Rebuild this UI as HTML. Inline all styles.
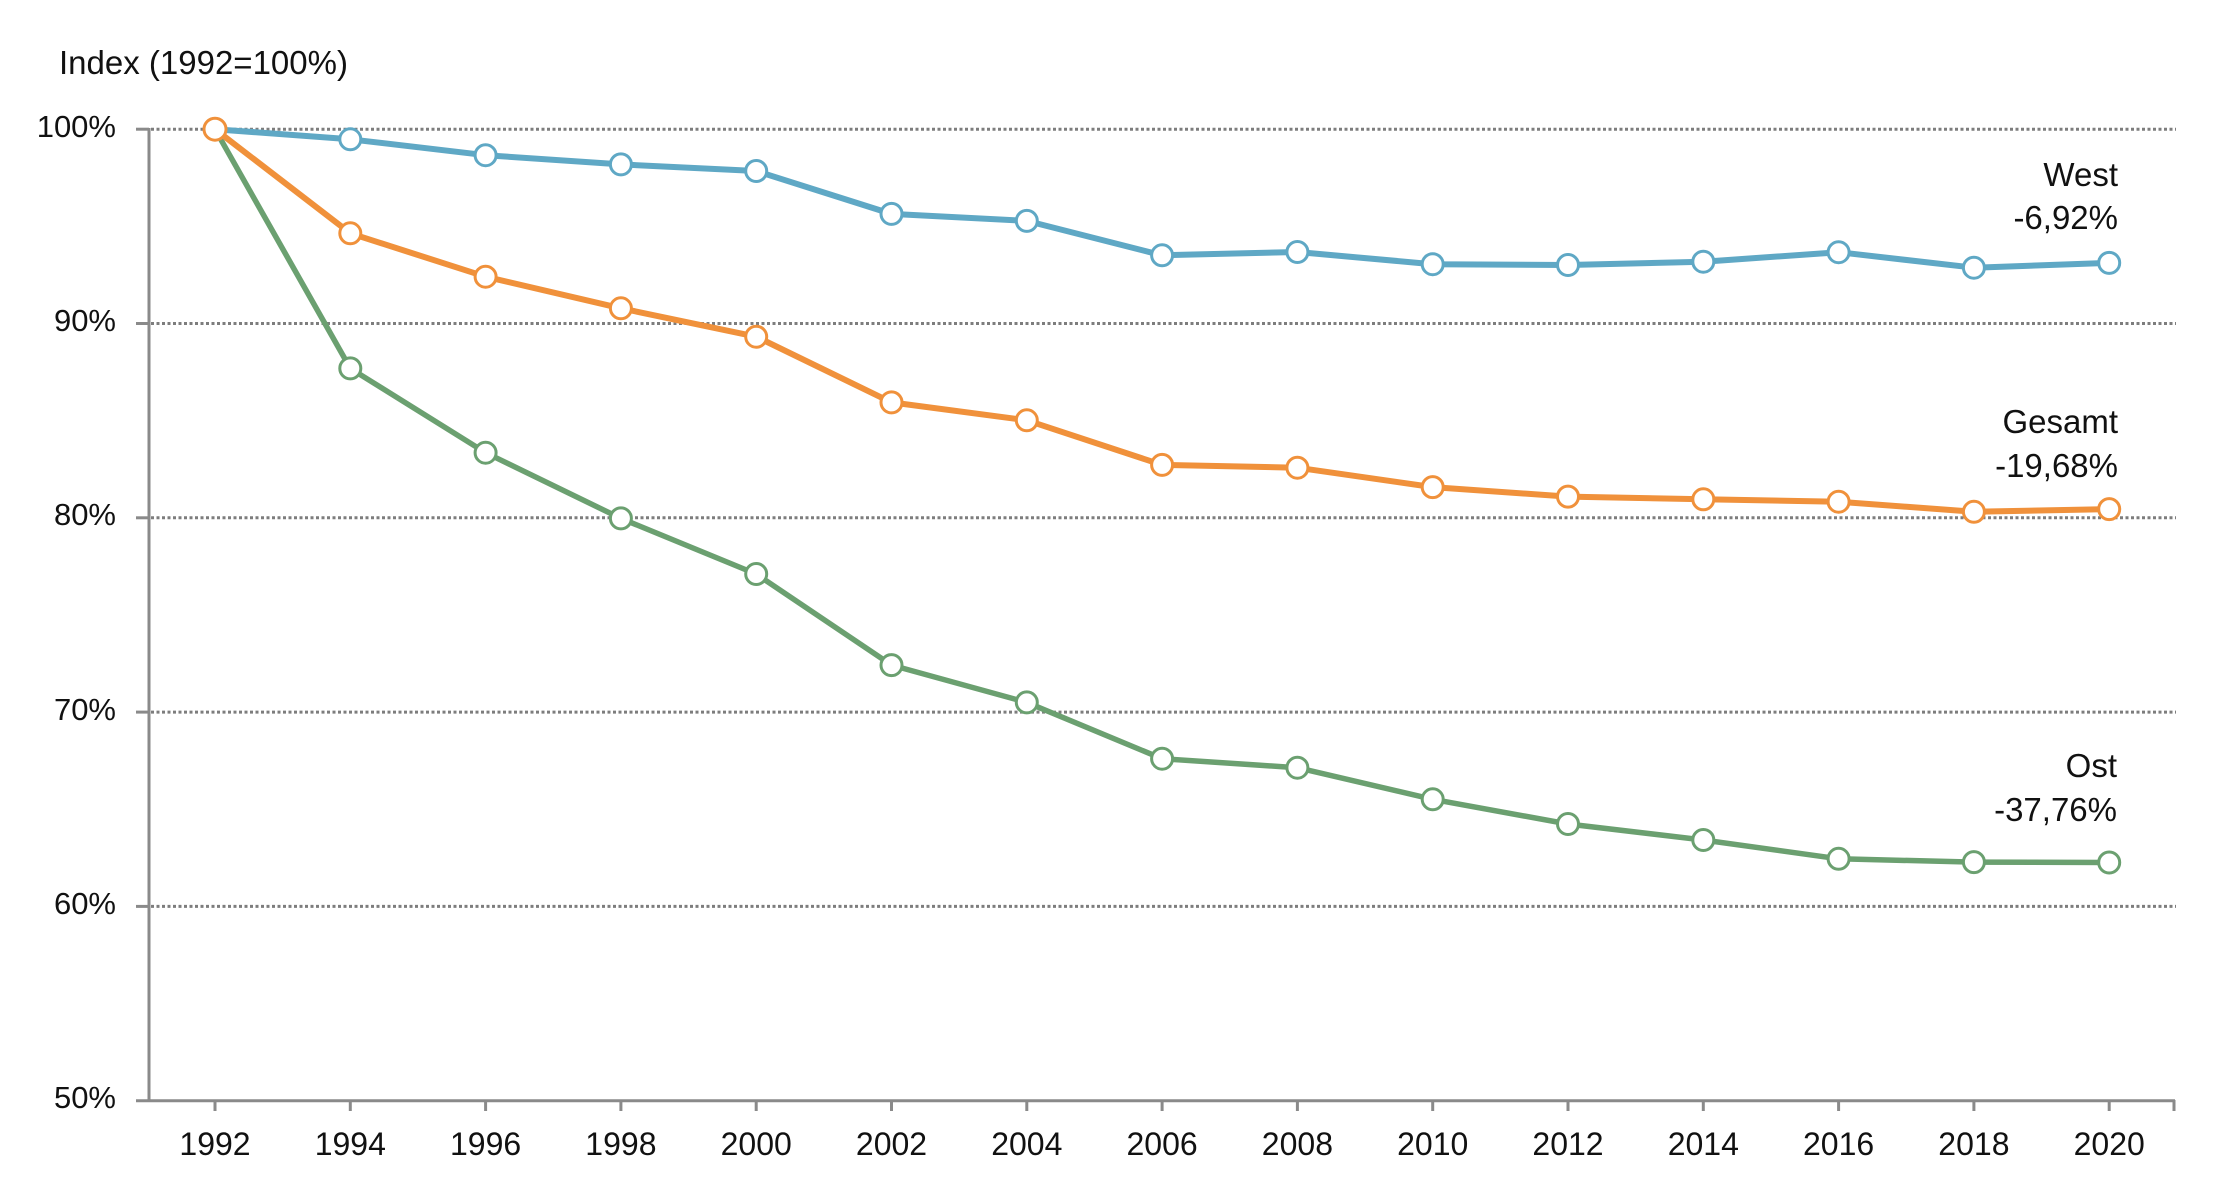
<!DOCTYPE html>
<html>
<head>
<meta charset="utf-8">
<style>
html,body{margin:0;padding:0;background:#fff;}
svg{display:block;}
text{font-family:"Liberation Sans",sans-serif;fill:#111;}
</style>
</head>
<body>
<svg width="2225" height="1200" viewBox="0 0 2225 1200" xmlns="http://www.w3.org/2000/svg">
<rect width="2225" height="1200" fill="#fff"/>
<!-- title -->
<text x="59" y="74" font-size="33">Index (1992=100%)</text>
<!-- gridlines -->
<g stroke="#7d7d7d" stroke-width="3" stroke-dasharray="3 2.5" fill="none">
<line x1="151" y1="129.2" x2="2176" y2="129.2"/>
<line x1="151" y1="323.5" x2="2176" y2="323.5"/>
<line x1="151" y1="517.8" x2="2176" y2="517.8"/>
<line x1="151" y1="712.1" x2="2176" y2="712.1"/>
<line x1="151" y1="906.4" x2="2176" y2="906.4"/>
</g>
<!-- axes -->
<g stroke="#8a8a8a" stroke-width="3" fill="none">
<line x1="149" y1="128" x2="149" y2="1101"/>
<line x1="136" y1="1100.7" x2="2175" y2="1100.7"/>
<line x1="136" y1="129.2" x2="149" y2="129.2"/>
<line x1="136" y1="323.5" x2="149" y2="323.5"/>
<line x1="136" y1="517.8" x2="149" y2="517.8"/>
<line x1="136" y1="712.1" x2="149" y2="712.1"/>
<line x1="136" y1="906.4" x2="149" y2="906.4"/>
<line x1="215" y1="1100" x2="215" y2="1111"/>
<line x1="350.3" y1="1100" x2="350.3" y2="1111"/>
<line x1="485.6" y1="1100" x2="485.6" y2="1111"/>
<line x1="620.9" y1="1100" x2="620.9" y2="1111"/>
<line x1="756.2" y1="1100" x2="756.2" y2="1111"/>
<line x1="891.5" y1="1100" x2="891.5" y2="1111"/>
<line x1="1026.8" y1="1100" x2="1026.8" y2="1111"/>
<line x1="1162.1" y1="1100" x2="1162.1" y2="1111"/>
<line x1="1297.4" y1="1100" x2="1297.4" y2="1111"/>
<line x1="1432.7" y1="1100" x2="1432.7" y2="1111"/>
<line x1="1568" y1="1100" x2="1568" y2="1111"/>
<line x1="1703.3" y1="1100" x2="1703.3" y2="1111"/>
<line x1="1838.6" y1="1100" x2="1838.6" y2="1111"/>
<line x1="1973.9" y1="1100" x2="1973.9" y2="1111"/>
<line x1="2109.2" y1="1100" x2="2109.2" y2="1111"/>
<line x1="2174" y1="1100" x2="2174" y2="1111"/>
</g>
<!-- y labels -->
<g font-size="31" text-anchor="end">
<text x="116" y="137">100%</text>
<text x="116" y="331">90%</text>
<text x="116" y="525">80%</text>
<text x="116" y="720">70%</text>
<text x="116" y="914">60%</text>
<text x="116" y="1108">50%</text>
</g>
<!-- x labels -->
<g font-size="32" text-anchor="middle">
<text x="215" y="1155">1992</text>
<text x="350.3" y="1155">1994</text>
<text x="485.6" y="1155">1996</text>
<text x="620.9" y="1155">1998</text>
<text x="756.2" y="1155">2000</text>
<text x="891.5" y="1155">2002</text>
<text x="1026.8" y="1155">2004</text>
<text x="1162.1" y="1155">2006</text>
<text x="1297.4" y="1155">2008</text>
<text x="1432.7" y="1155">2010</text>
<text x="1568" y="1155">2012</text>
<text x="1703.3" y="1155">2014</text>
<text x="1838.6" y="1155">2016</text>
<text x="1973.9" y="1155">2018</text>
<text x="2109.2" y="1155">2020</text>
</g>
<!-- Ost (green) -->
<polyline fill="none" stroke="#6ba070" stroke-width="5.5" stroke-linejoin="round" points="215,129.2 350.3,368.4 485.6,452.7 620.9,518.4 756.2,574.0 891.5,665.1 1026.8,702.4 1162.1,758.7 1297.4,767.7 1432.7,799.3 1568,824.0 1703.3,840.0 1838.6,858.8 1973.9,862.1 2109.2,862.5"/>
<g fill="#fff" stroke="#6ba070" stroke-width="3">
<circle cx="350.3" cy="368.4" r="10.5"/><circle cx="485.6" cy="452.7" r="10.5"/><circle cx="620.9" cy="518.4" r="10.5"/><circle cx="756.2" cy="574.0" r="10.5"/><circle cx="891.5" cy="665.1" r="10.5"/><circle cx="1026.8" cy="702.4" r="10.5"/><circle cx="1162.1" cy="758.7" r="10.5"/><circle cx="1297.4" cy="767.7" r="10.5"/><circle cx="1432.7" cy="799.3" r="10.5"/><circle cx="1568" cy="824.0" r="10.5"/><circle cx="1703.3" cy="840.0" r="10.5"/><circle cx="1838.6" cy="858.8" r="10.5"/><circle cx="1973.9" cy="862.1" r="10.5"/><circle cx="2109.2" cy="862.5" r="10.5"/>
</g>
<!-- West (blue) -->
<polyline fill="none" stroke="#5fa8c5" stroke-width="6" stroke-linejoin="round" points="215,129.2 350.3,139.3 485.6,155.2 620.9,164.4 756.2,171.0 891.5,213.9 1026.8,220.9 1162.1,255.3 1297.4,252.0 1432.7,264.2 1568,265.0 1703.3,261.7 1838.6,252.2 1973.9,267.7 2109.2,262.9"/>
<g fill="#fff" stroke="#5fa8c5" stroke-width="3">
<circle cx="350.3" cy="139.3" r="10.5"/><circle cx="485.6" cy="155.2" r="10.5"/><circle cx="620.9" cy="164.4" r="10.5"/><circle cx="756.2" cy="171.0" r="10.5"/><circle cx="891.5" cy="213.9" r="10.5"/><circle cx="1026.8" cy="220.9" r="10.5"/><circle cx="1162.1" cy="255.3" r="10.5"/><circle cx="1297.4" cy="252.0" r="10.5"/><circle cx="1432.7" cy="264.2" r="10.5"/><circle cx="1568" cy="265.0" r="10.5"/><circle cx="1703.3" cy="261.7" r="10.5"/><circle cx="1838.6" cy="252.2" r="10.5"/><circle cx="1973.9" cy="267.7" r="10.5"/><circle cx="2109.2" cy="262.9" r="10.5"/>
</g>
<!-- Gesamt (orange) -->
<polyline fill="none" stroke="#f0913b" stroke-width="6" stroke-linejoin="round" points="215,129.2 350.3,233.3 485.6,276.7 620.9,308.3 756.2,336.7 891.5,402.4 1026.8,420.3 1162.1,464.9 1297.4,467.7 1432.7,487.1 1568,496.6 1703.3,499.3 1838.6,501.7 1973.9,511.8 2109.2,509.1"/>
<g fill="#fff" stroke="#f0913b" stroke-width="3">
<circle cx="215" cy="129.2" r="11"/><circle cx="350.3" cy="233.3" r="10.5"/><circle cx="485.6" cy="276.7" r="10.5"/><circle cx="620.9" cy="308.3" r="10.5"/><circle cx="756.2" cy="336.7" r="10.5"/><circle cx="891.5" cy="402.4" r="10.5"/><circle cx="1026.8" cy="420.3" r="10.5"/><circle cx="1162.1" cy="464.9" r="10.5"/><circle cx="1297.4" cy="467.7" r="10.5"/><circle cx="1432.7" cy="487.1" r="10.5"/><circle cx="1568" cy="496.6" r="10.5"/><circle cx="1703.3" cy="499.3" r="10.5"/><circle cx="1838.6" cy="501.7" r="10.5"/><circle cx="1973.9" cy="511.8" r="10.5"/><circle cx="2109.2" cy="509.1" r="10.5"/>
</g>
<!-- series labels -->
<g font-size="33" text-anchor="end">
<text x="2118" y="186">West</text>
<text x="2118" y="229">-6,92%</text>
<text x="2118" y="433">Gesamt</text>
<text x="2118" y="477">-19,68%</text>
<text x="2117" y="777">Ost</text>
<text x="2117" y="821">-37,76%</text>
</g>
</svg>
</body>
</html>
